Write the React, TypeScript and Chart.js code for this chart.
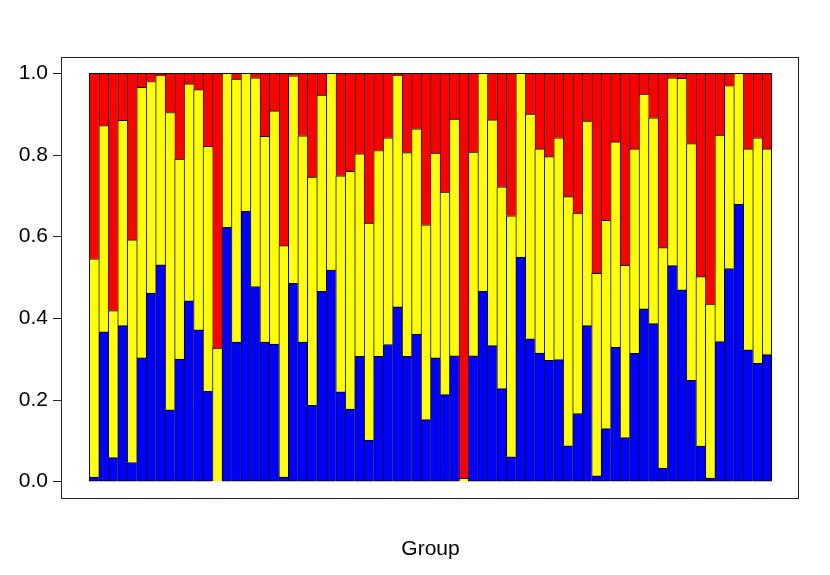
import React, { useEffect, useRef } from "react";
import { Chart, registerables } from "chart.js";

Chart.register(...registerables);

const blueValues = [
  0.011, 0.367, 0.059, 0.382, 0.047, 0.303, 0.462, 0.531, 0.176, 0.3, 0.443, 0.372,
  0.221, 0.0, 0.623, 0.342, 0.662, 0.478, 0.342, 0.337, 0.011, 0.486, 0.342, 0.187,
  0.466, 0.518, 0.22, 0.178, 0.307, 0.102, 0.307, 0.336, 0.428, 0.307, 0.361, 0.152,
  0.303, 0.213, 0.308, 0.0, 0.308, 0.466, 0.333, 0.228, 0.061, 0.55, 0.35, 0.315,
  0.297, 0.299, 0.088, 0.167, 0.382, 0.014, 0.13, 0.329, 0.108, 0.314, 0.423, 0.387,
  0.033, 0.529, 0.47, 0.248, 0.087, 0.009, 0.343, 0.522, 0.679, 0.323, 0.29, 0.311,
];

const yellowValues = [
  0.535, 0.505, 0.36, 0.503, 0.545, 0.663, 0.518, 0.465, 0.728, 0.49, 0.531, 0.588,
  0.6, 0.327, 0.377, 0.644, 0.338, 0.511, 0.504, 0.571, 0.567, 0.508, 0.505, 0.559,
  0.481, 0.482, 0.529, 0.582, 0.496, 0.531, 0.504, 0.506, 0.568, 0.499, 0.503, 0.477,
  0.502, 0.496, 0.58, 0.008, 0.499, 0.534, 0.553, 0.494, 0.59, 0.45, 0.55, 0.5,
  0.499, 0.543, 0.61, 0.491, 0.501, 0.496, 0.51, 0.503, 0.422, 0.501, 0.526, 0.504,
  0.54, 0.46, 0.518, 0.58, 0.415, 0.426, 0.506, 0.448, 0.321, 0.492, 0.552, 0.504,
];

const redValues = [
  0.454, 0.128, 0.581, 0.115, 0.408, 0.034, 0.02, 0.004, 0.096, 0.21, 0.026, 0.04,
  0.179, 0.673, 0.0, 0.014, 0.0, 0.011, 0.154, 0.092, 0.422, 0.006, 0.153, 0.254,
  0.053, 0.0, 0.251, 0.24, 0.197, 0.367, 0.189, 0.158, 0.004, 0.194, 0.136, 0.371,
  0.195, 0.291, 0.112, 0.992, 0.193, 0.0, 0.114, 0.278, 0.349, 0.0, 0.1, 0.185,
  0.204, 0.158, 0.302, 0.342, 0.117, 0.49, 0.36, 0.168, 0.47, 0.185, 0.051, 0.109,
  0.427, 0.011, 0.012, 0.172, 0.498, 0.565, 0.151, 0.03, 0.0, 0.185, 0.158, 0.185,
];

const yTicks = [0, 0.2, 0.4, 0.6, 0.8, 1.0];
const xTitle = "Group";

const FONT = "'Liberation Sans', Arial, Helvetica, sans-serif";

export default function App() {
  const ref = useRef<HTMLCanvasElement>(null);

  useEffect(() => {
    const canvas = ref.current;
    if (!canvas) return;
    const n = blueValues.length;
    const toPts = (arr: number[]) => arr.map((v, i) => ({ x: i, y: v }));

    const bw = (bottom: number) => (ctx: any) => ({
      left: 1,
      top: 1,
      right: ctx.dataIndex === n - 1 ? 1 : 0,
      bottom,
    });

    const boxPlugin = {
      id: "boxPlugin",
      afterDraw(chart: any) {
        const { ctx, chartArea } = chart;
        ctx.save();
        ctx.strokeStyle = "#222";
        ctx.lineWidth = 1;
        ctx.strokeRect(
          Math.round(chartArea.left) - 0.5,
          Math.round(chartArea.top) + 0.5,
          Math.round(chartArea.right - chartArea.left),
          Math.round(chartArea.bottom - chartArea.top)
        );
        ctx.restore();
      },
    };

    const pad = n * 0.04;
    const chart = new Chart(canvas, {
      type: "bar",
      data: {
        datasets: [
          {
            label: "blue",
            data: toPts(blueValues),
            backgroundColor: "#0000FF",
            borderColor: "#000000",
            borderWidth: bw(1) as any,
            borderSkipped: false,
          },
          {
            label: "yellow",
            data: toPts(yellowValues),
            backgroundColor: "#FFFF00",
            borderColor: "#000000",
            borderWidth: bw(0) as any,
            borderSkipped: false,
          },
          {
            label: "red",
            data: toPts(redValues),
            backgroundColor: "#FF0000",
            borderColor: "#000000",
            borderWidth: bw(0) as any,
            borderSkipped: false,
          },
        ],
      },
      options: {
        responsive: false,
        animation: false,
        events: [],
        layout: { padding: { left: 0, top: 57, right: 31, bottom: 0 } },
        plugins: {
          legend: { display: false },
          tooltip: { enabled: false },
        },
        datasets: {
          bar: { barPercentage: 1, categoryPercentage: 1 },
        },
        scales: {
          x: {
            type: "linear",
            stacked: true,
            offset: false,
            min: -0.5 - pad,
            max: n - 0.5 + pad,
            ticks: { display: false },
            grid: { display: false },
            border: { display: false },
            title: {
              display: true,
              text: xTitle,
              color: "#000",
              font: { family: FONT, size: 21 },
              padding: { top: 0, bottom: 13 },
            },
            afterFit: (scale: any) => {
              scale.height = 77;
            },
          },
          y: {
            type: "linear",
            stacked: true,
            min: -0.04,
            max: 1.04,
            afterBuildTicks: (scale: any) => {
              scale.ticks = yTicks.map((v) => ({ value: v }));
            },
            ticks: {
              color: "#000",
              font: { family: FONT, size: 21 },
              padding: 5,
              callback: (v: any) => Number(v).toFixed(1),
            },
            grid: {
              drawOnChartArea: false,
              drawTicks: true,
              tickLength: 9,
              color: "#222",
            },
            border: { display: false },
            afterFit: (scale: any) => {
              scale.width = 62;
            },
          },
        },
      },
      plugins: [boxPlugin],
    } as any);

    return () => chart.destroy();
  }, []);

  return (
    <div style={{ position: "absolute", left: 0, top: 0, width: 830, height: 575, background: "#fff" }}>
      <canvas ref={ref} width={830} height={575} style={{ width: 830, height: 575 }} />
    </div>
  );
}
